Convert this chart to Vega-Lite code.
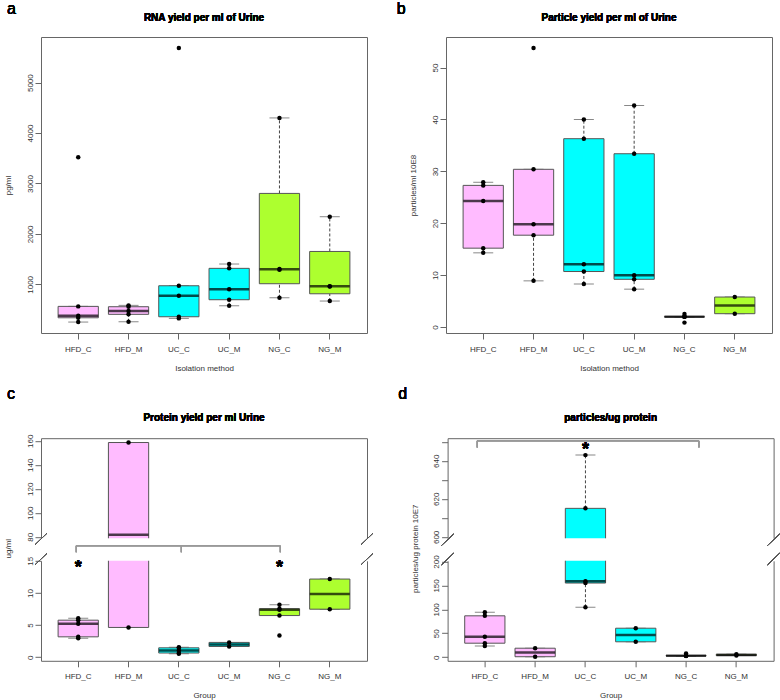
{
  "$schema": "https://vega.github.io/schema/vega-lite/v6.json",
  "autosize": {"type": "pad"},
  "padding": {"left": 4, "top": 0, "right": 4, "bottom": 2},
  "background": "white",
  "config": {
    "font": "Liberation Sans",
    "view": {"stroke": "#666", "strokeWidth": 1},
    "axis": {"grid": false, "domainColor": "#666", "tickColor": "#666", "tickSize": 6, "labelFontSize": 8, "labelColor": "#333", "titleFontSize": 8, "titleFontWeight": "normal", "titleColor": "#333", "labelFont": "Liberation Sans", "titleFont": "Liberation Sans", "labelOverlap": false, "labelFlush": false},
    "axisX": {"labelAngle": 0, "labelPadding": 12, "labelBaseline": "alphabetic", "titleY": 37, "titleBaseline": "alphabetic"},
    "axisY": {"labelAngle": -90, "labelAlign": "center", "labelBaseline": "alphabetic", "labelPadding": 3, "titleX": -30.5, "titleAngle": -90, "titleBaseline": "alphabetic", "titleAlign": "center", "format": "d"}
  },
  "datasets": {
    "boxes": [
      {"panel": "a", "group": "HFD_C", "lo": 252, "q1": 337, "med": 377, "q3": 563, "hi": 563},
      {"panel": "a", "group": "HFD_M", "lo": 258, "q1": 405, "med": 470, "q3": 556, "hi": 583},
      {"panel": "a", "group": "UC_C", "lo": 325, "q1": 357, "med": 774, "q3": 972, "hi": 972},
      {"panel": "a", "group": "UC_M", "lo": 575, "q1": 695, "med": 901, "q3": 1317, "hi": 1403},
      {"panel": "a", "group": "NG_C", "lo": 734, "q1": 1012, "med": 1298, "q3": 2803, "hi": 4300},
      {"panel": "a", "group": "NG_M", "lo": 669, "q1": 813, "med": 960, "q3": 1652, "hi": 2341},
      {"panel": "b", "group": "HFD_C", "lo": 14.3, "q1": 15.2, "med": 24.3, "q3": 27.3, "hi": 27.9},
      {"panel": "b", "group": "HFD_M", "lo": 8.9, "q1": 17.7, "med": 19.8, "q3": 30.4, "hi": 30.4},
      {"panel": "b", "group": "UC_C", "lo": 8.3, "q1": 10.7, "med": 12.1, "q3": 36.3, "hi": 40.0},
      {"panel": "b", "group": "UC_M", "lo": 7.3, "q1": 9.2, "med": 10.0, "q3": 33.4, "hi": 42.7},
      {"panel": "b", "group": "NG_C", "lo": 1.97, "q1": 1.97, "med": 1.98, "q3": 2.0, "hi": 2.0},
      {"panel": "b", "group": "NG_M", "lo": 2.57, "q1": 2.57, "med": 4.17, "q3": 5.78, "hi": 5.78},
      {"panel": "c", "group": "HFD_C", "lo": 2.96, "q1": 3.17, "med": 5.2, "q3": 5.76, "hi": 6.07},
      {"panel": "c", "group": "HFD_M", "lo": 4.63, "q1": 4.63, "med": 81.6, "q3": 158.6, "hi": 158.6},
      {"panel": "c", "group": "UC_C", "lo": 0.55, "q1": 0.65, "med": 1.05, "q3": 1.46, "hi": 1.56},
      {"panel": "c", "group": "UC_M", "lo": 1.67, "q1": 1.67, "med": 1.985, "q3": 2.3, "hi": 2.3},
      {"panel": "c", "group": "NG_C", "lo": 6.48, "q1": 6.48, "med": 7.38, "q3": 7.54, "hi": 8.16},
      {"panel": "c", "group": "NG_M", "lo": 7.47, "q1": 7.47, "med": 9.815, "q3": 12.16, "hi": 12.16},
      {"panel": "d", "group": "HFD_C", "lo": 23.5, "q1": 29.3, "med": 42.6, "q3": 86.5, "hi": 94},
      {"panel": "d", "group": "HFD_M", "lo": 1.0, "q1": 1.0, "med": 9.9, "q3": 18.8, "hi": 18.8},
      {"panel": "d", "group": "UC_C", "lo": 104.5, "q1": 155, "med": 159, "q3": 615, "hi": 643},
      {"panel": "d", "group": "UC_M", "lo": 32.2, "q1": 32.2, "med": 46.4, "q3": 60.6, "hi": 60.6},
      {"panel": "d", "group": "NG_C", "lo": 2.5, "q1": 2.9, "med": 3.3, "q3": 3.6, "hi": 3.6},
      {"panel": "d", "group": "NG_M", "lo": 3.5, "q1": 3.5, "med": 4.85, "q3": 6.2, "hi": 6.2}
    ],
    "points": [
      {"panel": "a", "group": "HFD_C", "v": 252}, {"panel": "a", "group": "HFD_C", "v": 337}, {"panel": "a", "group": "HFD_C", "v": 377}, {"panel": "a", "group": "HFD_C", "v": 563}, {"panel": "a", "group": "HFD_C", "v": 3520},
      {"panel": "a", "group": "HFD_M", "v": 258}, {"panel": "a", "group": "HFD_M", "v": 405}, {"panel": "a", "group": "HFD_M", "v": 470}, {"panel": "a", "group": "HFD_M", "v": 556}, {"panel": "a", "group": "HFD_M", "v": 583},
      {"panel": "a", "group": "UC_C", "v": 325}, {"panel": "a", "group": "UC_C", "v": 357}, {"panel": "a", "group": "UC_C", "v": 774}, {"panel": "a", "group": "UC_C", "v": 972}, {"panel": "a", "group": "UC_C", "v": 5688},
      {"panel": "a", "group": "UC_M", "v": 575}, {"panel": "a", "group": "UC_M", "v": 695}, {"panel": "a", "group": "UC_M", "v": 901}, {"panel": "a", "group": "UC_M", "v": 1317}, {"panel": "a", "group": "UC_M", "v": 1403},
      {"panel": "a", "group": "NG_C", "v": 734}, {"panel": "a", "group": "NG_C", "v": 1290}, {"panel": "a", "group": "NG_C", "v": 1306}, {"panel": "a", "group": "NG_C", "v": 4300},
      {"panel": "a", "group": "NG_M", "v": 669}, {"panel": "a", "group": "NG_M", "v": 957}, {"panel": "a", "group": "NG_M", "v": 963}, {"panel": "a", "group": "NG_M", "v": 2341},
      {"panel": "b", "group": "HFD_C", "v": 14.3}, {"panel": "b", "group": "HFD_C", "v": 15.2}, {"panel": "b", "group": "HFD_C", "v": 24.3}, {"panel": "b", "group": "HFD_C", "v": 27.3}, {"panel": "b", "group": "HFD_C", "v": 27.9},
      {"panel": "b", "group": "HFD_M", "v": 8.9}, {"panel": "b", "group": "HFD_M", "v": 17.7}, {"panel": "b", "group": "HFD_M", "v": 19.8}, {"panel": "b", "group": "HFD_M", "v": 30.4}, {"panel": "b", "group": "HFD_M", "v": 53.8},
      {"panel": "b", "group": "UC_C", "v": 8.3}, {"panel": "b", "group": "UC_C", "v": 10.7}, {"panel": "b", "group": "UC_C", "v": 12.1}, {"panel": "b", "group": "UC_C", "v": 36.3}, {"panel": "b", "group": "UC_C", "v": 40.0},
      {"panel": "b", "group": "UC_M", "v": 7.3}, {"panel": "b", "group": "UC_M", "v": 9.2}, {"panel": "b", "group": "UC_M", "v": 10.0}, {"panel": "b", "group": "UC_M", "v": 33.4}, {"panel": "b", "group": "UC_M", "v": 42.7},
      {"panel": "b", "group": "NG_C", "v": 0.85}, {"panel": "b", "group": "NG_C", "v": 1.97}, {"panel": "b", "group": "NG_C", "v": 1.98}, {"panel": "b", "group": "NG_C", "v": 2.0}, {"panel": "b", "group": "NG_C", "v": 2.5},
      {"panel": "b", "group": "NG_M", "v": 2.57}, {"panel": "b", "group": "NG_M", "v": 5.78},
      {"panel": "c", "group": "HFD_C", "v": 2.96}, {"panel": "c", "group": "HFD_C", "v": 3.17}, {"panel": "c", "group": "HFD_C", "v": 5.2}, {"panel": "c", "group": "HFD_C", "v": 5.76}, {"panel": "c", "group": "HFD_C", "v": 6.07},
      {"panel": "c", "group": "HFD_M", "v": 4.63}, {"panel": "c", "group": "HFD_M", "v": 158.6},
      {"panel": "c", "group": "UC_C", "v": 0.55}, {"panel": "c", "group": "UC_C", "v": 0.65}, {"panel": "c", "group": "UC_C", "v": 1.05}, {"panel": "c", "group": "UC_C", "v": 1.46}, {"panel": "c", "group": "UC_C", "v": 1.56},
      {"panel": "c", "group": "UC_M", "v": 1.67}, {"panel": "c", "group": "UC_M", "v": 2.3},
      {"panel": "c", "group": "NG_C", "v": 3.38}, {"panel": "c", "group": "NG_C", "v": 6.48}, {"panel": "c", "group": "NG_C", "v": 7.38}, {"panel": "c", "group": "NG_C", "v": 7.54}, {"panel": "c", "group": "NG_C", "v": 8.16},
      {"panel": "c", "group": "NG_M", "v": 7.47}, {"panel": "c", "group": "NG_M", "v": 12.16},
      {"panel": "d", "group": "HFD_C", "v": 23.5}, {"panel": "d", "group": "HFD_C", "v": 29.3}, {"panel": "d", "group": "HFD_C", "v": 42.6}, {"panel": "d", "group": "HFD_C", "v": 86.5}, {"panel": "d", "group": "HFD_C", "v": 94},
      {"panel": "d", "group": "HFD_M", "v": 1.0}, {"panel": "d", "group": "HFD_M", "v": 18.8},
      {"panel": "d", "group": "UC_C", "v": 104.5}, {"panel": "d", "group": "UC_C", "v": 155}, {"panel": "d", "group": "UC_C", "v": 159}, {"panel": "d", "group": "UC_C", "v": 615}, {"panel": "d", "group": "UC_C", "v": 643},
      {"panel": "d", "group": "UC_M", "v": 32.2}, {"panel": "d", "group": "UC_M", "v": 60.6},
      {"panel": "d", "group": "NG_C", "v": 2.5}, {"panel": "d", "group": "NG_C", "v": 2.9}, {"panel": "d", "group": "NG_C", "v": 3.3}, {"panel": "d", "group": "NG_C", "v": 3.6}, {"panel": "d", "group": "NG_C", "v": 7.7},
      {"panel": "d", "group": "NG_M", "v": 3.5}, {"panel": "d", "group": "NG_M", "v": 6.2}
    ]
  },
  "spacing": 13.2,
  "vconcat": [
    {
      "spacing": 79,
      "bounds": "flush",
      "hconcat": [
        {
          "width": 326, "height": 296,
          "data": {"name": "boxes"},
          "transform": [{"filter": "datum.panel === 'a'"}],
          "encoding": {"x": {"field": "group", "type": "nominal", "scale": {"type": "band", "domain": ["HFD_C", "HFD_M", "UC_C", "UC_M", "NG_C", "NG_M"], "paddingInner": 0.2, "paddingOuter": 0.34}, "axis": {"title": "Isolation method", "domain": false}}},
          "resolve": {"axis": {"y": "independent"}},
          "layer": [
            {"mark": {"type": "rule", "strokeDash": [3, 2], "color": "#444"}, "encoding": {"y": {"field": "lo", "type": "quantitative", "scale": {"domain": [35, 5905], "nice": false, "zero": false}, "axis": {"title": "pg/ml", "domain": false, "values": [1000, 2000, 3000, 4000, 5000]}}, "y2": {"field": "q1"}}},
            {"mark": {"type": "rule", "strokeDash": [3, 2], "color": "#444"}, "encoding": {"y": {"field": "q3", "type": "quantitative", "axis": null}, "y2": {"field": "hi"}}},
            {"mark": {"type": "tick", "size": 20, "thickness": 1, "color": "#555"}, "encoding": {"y": {"field": "lo", "type": "quantitative", "axis": null}}},
            {"mark": {"type": "tick", "size": 20, "thickness": 1, "color": "#555"}, "encoding": {"y": {"field": "hi", "type": "quantitative", "axis": null}}},
            {"mark": {"type": "bar", "stroke": "#555", "strokeWidth": 1}, "encoding": {"y": {"field": "q1", "type": "quantitative", "axis": null}, "y2": {"field": "q3"}, "fill": {"field": "group", "type": "nominal", "scale": {"domain": ["HFD_C", "HFD_M", "UC_C", "UC_M", "NG_C", "NG_M"], "range": ["#FFBBFF", "#FFBBFF", "#00FFFF", "#00FFFF", "#ADFF2F", "#ADFF2F"]}, "legend": null}}},
            {"mark": {"type": "tick", "size": 40, "thickness": 2.5, "color": "black"}, "encoding": {"y": {"field": "med", "type": "quantitative", "axis": null}}},
            {"data": {"name": "points"}, "transform": [{"filter": "datum.panel === 'a'"}], "mark": {"type": "circle", "size": 20, "color": "black", "opacity": 1}, "encoding": {"y": {"field": "v", "type": "quantitative", "axis": null}}},
            {"mark": {"type": "text", "text": "a", "fontSize": 16, "align": "left", "baseline": "alphabetic", "color": "black", "clip": false}, "encoding": {"x": {"datum": "HFD_C", "bandPosition": -1.27}, "y": {"datum": 6354.7, "type": "quantitative", "axis": null}}},
            {"mark": {"type": "text", "text": "RNA yield per ml of Urine", "fontSize": 10, "fontWeight": "bold", "align": "center", "baseline": "alphabetic", "color": "black", "clip": false}, "encoding": {"x": {"datum": "UC_C", "bandPosition": 1.125}, "y": {"datum": 6231.9, "type": "quantitative", "axis": null}}}
          ]
        },
        {
          "width": 326, "height": 296,
          "data": {"name": "boxes"},
          "transform": [{"filter": "datum.panel === 'b'"}],
          "encoding": {"x": {"field": "group", "type": "nominal", "scale": {"type": "band", "domain": ["HFD_C", "HFD_M", "UC_C", "UC_M", "NG_C", "NG_M"], "paddingInner": 0.2, "paddingOuter": 0.34}, "axis": {"title": "Isolation method", "domain": false}}},
          "resolve": {"axis": {"y": "independent"}},
          "layer": [
            {"mark": {"type": "rule", "strokeDash": [3, 2], "color": "#444"}, "encoding": {"y": {"field": "lo", "type": "quantitative", "scale": {"domain": [-1.15, 55.9], "nice": false, "zero": false}, "axis": {"title": "particles/ml 10E8", "domain": false, "values": [0, 10, 20, 30, 40, 50]}}, "y2": {"field": "q1"}}},
            {"mark": {"type": "rule", "strokeDash": [3, 2], "color": "#444"}, "encoding": {"y": {"field": "q3", "type": "quantitative", "axis": null}, "y2": {"field": "hi"}}},
            {"mark": {"type": "tick", "size": 20, "thickness": 1, "color": "#555"}, "encoding": {"y": {"field": "lo", "type": "quantitative", "axis": null}}},
            {"mark": {"type": "tick", "size": 20, "thickness": 1, "color": "#555"}, "encoding": {"y": {"field": "hi", "type": "quantitative", "axis": null}}},
            {"mark": {"type": "bar", "stroke": "#555", "strokeWidth": 1}, "encoding": {"y": {"field": "q1", "type": "quantitative", "axis": null}, "y2": {"field": "q3"}, "fill": {"field": "group", "type": "nominal", "scale": {"domain": ["HFD_C", "HFD_M", "UC_C", "UC_M", "NG_C", "NG_M"], "range": ["#FFBBFF", "#FFBBFF", "#00FFFF", "#00FFFF", "#ADFF2F", "#ADFF2F"]}, "legend": null}}},
            {"mark": {"type": "tick", "size": 40, "thickness": 2.5, "color": "black"}, "encoding": {"y": {"field": "med", "type": "quantitative", "axis": null}}},
            {"data": {"name": "points"}, "transform": [{"filter": "datum.panel === 'b'"}], "mark": {"type": "circle", "size": 20, "color": "black", "opacity": 1}, "encoding": {"y": {"field": "v", "type": "quantitative", "axis": null}}},
            {"mark": {"type": "text", "text": "b", "fontSize": 16, "align": "left", "baseline": "alphabetic", "color": "black", "clip": false}, "encoding": {"x": {"datum": "HFD_C", "bandPosition": -1.65}, "y": {"datum": 60.27, "type": "quantitative", "axis": null}}},
            {"mark": {"type": "text", "text": "Particle yield per ml of Urine", "fontSize": 10, "fontWeight": "bold", "align": "center", "baseline": "alphabetic", "color": "black", "clip": false}, "encoding": {"x": {"datum": "UC_C", "bandPosition": 1.125}, "y": {"datum": 59.08, "type": "quantitative", "axis": null}}}
          ]
        }
      ]
    },
    {
      "spacing": 23.6,
      "hconcat": [
        {
          "bounds": "flush",
          "spacing": 22.6,
          "vconcat": [
            {
              "width": 326, "height": 100,
              "view": {"stroke": null},
              "data": {"name": "boxes"},
              "transform": [{"filter": "datum.panel === 'c'"}],
              "encoding": {"x": {"field": "group", "type": "nominal", "scale": {"type": "band", "domain": ["HFD_C", "HFD_M", "UC_C", "UC_M", "NG_C", "NG_M"], "paddingInner": 0.2, "paddingOuter": 0.34}, "axis": {"orient": "top", "labels": false, "ticks": false, "title": null, "domain": true}}},
              "resolve": {"axis": {"y": "independent"}},
              "layer": [
                {"mark": {"type": "rule", "strokeDash": [3, 2], "color": "#444", "clip": true}, "encoding": {"y": {"field": "lo", "type": "quantitative", "scale": {"domain": [78.8, 162.2], "nice": false, "zero": false}, "axis": {"title": null, "values": [80, 100, 120, 140, 160]}}, "y2": {"field": "q1"}}},
                {"mark": {"type": "rule", "strokeDash": [3, 2], "color": "#444", "clip": true}, "encoding": {"y": {"field": "q3", "type": "quantitative", "axis": {"orient": "right", "labels": false, "ticks": false, "title": null}}, "y2": {"field": "hi"}}},
                {"mark": {"type": "tick", "size": 20, "thickness": 1, "color": "#555", "clip": true}, "encoding": {"y": {"field": "lo", "type": "quantitative", "axis": null}}},
                {"mark": {"type": "tick", "size": 20, "thickness": 1, "color": "#555", "clip": true}, "encoding": {"y": {"field": "hi", "type": "quantitative", "axis": null}}},
                {"mark": {"type": "bar", "stroke": "#555", "strokeWidth": 1, "clip": true}, "encoding": {"y": {"field": "q1", "type": "quantitative", "axis": null}, "y2": {"field": "q3"}, "fill": {"field": "group", "type": "nominal", "scale": {"domain": ["HFD_C", "HFD_M", "UC_C", "UC_M", "NG_C", "NG_M"], "range": ["#FFBBFF", "#FFBBFF", "#00FFFF", "#00FFFF", "#ADFF2F", "#ADFF2F"]}, "legend": null}}},
                {"mark": {"type": "tick", "size": 40, "thickness": 2.5, "color": "black", "clip": true}, "encoding": {"y": {"field": "med", "type": "quantitative", "axis": null}}},
                {"data": {"name": "points"}, "transform": [{"filter": "datum.panel === 'c'"}], "mark": {"type": "circle", "size": 20, "color": "black", "opacity": 1, "clip": true}, "encoding": {"y": {"field": "v", "type": "quantitative", "axis": null}}},
                {"mark": {"type": "rule", "color": "#555", "clip": false}, "encoding": {"x": {"datum": "HFD_C", "bandPosition": -0.574}, "x2": {"datum": "HFD_C", "bandPosition": -0.276}, "y": {"datum": 73.3, "type": "quantitative", "axis": null}, "y2": {"datum": 83.0}}},
                {"mark": {"type": "rule", "color": "#555", "clip": false}, "encoding": {"x": {"datum": "NG_M", "bandPosition": 1.276}, "x2": {"datum": "NG_M", "bandPosition": 1.574}, "y": {"datum": 73.3, "type": "quantitative", "axis": null}, "y2": {"datum": 83.0}}},
                {"mark": {"type": "text", "text": "c", "fontSize": 16, "align": "left", "baseline": "alphabetic", "color": "black", "clip": false}, "encoding": {"x": {"datum": "HFD_C", "bandPosition": -1.27}, "y": {"datum": 194.5, "type": "quantitative", "axis": null}}},
                {"mark": {"type": "text", "text": "Protein yield per ml Urine", "fontSize": 10, "fontWeight": "bold", "align": "center", "baseline": "alphabetic", "color": "black", "clip": false}, "encoding": {"x": {"datum": "UC_C", "bandPosition": 1.125}, "y": {"datum": 176.2, "type": "quantitative", "axis": null}}}
              ]
            },
            {
              "width": 326, "height": 100,
              "view": {"stroke": null},
              "data": {"name": "boxes"},
              "transform": [{"filter": "datum.panel === 'c'"}],
              "encoding": {"x": {"field": "group", "type": "nominal", "scale": {"type": "band", "domain": ["HFD_C", "HFD_M", "UC_C", "UC_M", "NG_C", "NG_M"], "paddingInner": 0.2, "paddingOuter": 0.34}, "axis": {"title": "Group", "domain": true}}},
              "resolve": {"axis": {"y": "independent"}},
              "layer": [
                {"mark": {"type": "rule", "strokeDash": [3, 2], "color": "#444", "clip": true}, "encoding": {"y": {"field": "lo", "type": "quantitative", "scale": {"domain": [-0.56, 15], "nice": false, "zero": false}, "axis": {"title": "ug/ml", "values": [0, 5, 10, 15], "titleY": -12.6}}, "y2": {"field": "q1"}}},
                {"mark": {"type": "rule", "strokeDash": [3, 2], "color": "#444", "clip": true}, "encoding": {"y": {"field": "q3", "type": "quantitative", "axis": {"orient": "right", "labels": false, "ticks": false, "title": null}}, "y2": {"field": "hi"}}},
                {"mark": {"type": "tick", "size": 20, "thickness": 1, "color": "#555", "clip": true}, "encoding": {"y": {"field": "lo", "type": "quantitative", "axis": null}}},
                {"mark": {"type": "tick", "size": 20, "thickness": 1, "color": "#555", "clip": true}, "encoding": {"y": {"field": "hi", "type": "quantitative", "axis": null}}},
                {"mark": {"type": "bar", "stroke": "#555", "strokeWidth": 1, "clip": true}, "encoding": {"y": {"field": "q1", "type": "quantitative", "axis": null}, "y2": {"field": "q3"}, "fill": {"field": "group", "type": "nominal", "scale": {"domain": ["HFD_C", "HFD_M", "UC_C", "UC_M", "NG_C", "NG_M"], "range": ["#FFBBFF", "#FFBBFF", "#00FFFF", "#00FFFF", "#ADFF2F", "#ADFF2F"]}, "legend": null}}},
                {"mark": {"type": "tick", "size": 40, "thickness": 2.5, "color": "black", "clip": true}, "encoding": {"y": {"field": "med", "type": "quantitative", "axis": null}}},
                {"data": {"name": "points"}, "transform": [{"filter": "datum.panel === 'c'"}], "mark": {"type": "circle", "size": 20, "color": "black", "opacity": 1, "clip": true}, "encoding": {"y": {"field": "v", "type": "quantitative", "axis": null}}},
                {"mark": {"type": "rule", "color": "#555", "clip": false}, "encoding": {"x": {"datum": "HFD_C", "bandPosition": -0.574}, "x2": {"datum": "HFD_C", "bandPosition": -0.276}, "y": {"datum": 14.37, "type": "quantitative", "axis": null}, "y2": {"datum": 16.17}}},
                {"mark": {"type": "rule", "color": "#555", "clip": false}, "encoding": {"x": {"datum": "NG_M", "bandPosition": 1.276}, "x2": {"datum": "NG_M", "bandPosition": 1.574}, "y": {"datum": 14.37, "type": "quantitative", "axis": null}, "y2": {"datum": 16.17}}},
                {"mark": {"type": "rule", "color": "#999", "clip": false}, "encoding": {"x": {"datum": "HFD_C", "bandPosition": 0.45}, "x2": {"datum": "NG_C", "bandPosition": 0.52}, "y": {"datum": 17.33, "type": "quantitative", "axis": null}}},
                {"mark": {"type": "rule", "color": "#999", "clip": false}, "encoding": {"x": {"datum": "HFD_C", "bandPosition": 0.45}, "y": {"datum": 16.33, "type": "quantitative", "axis": null}, "y2": {"datum": 17.33}}},
                {"mark": {"type": "rule", "color": "#999", "clip": false}, "encoding": {"x": {"datum": "UC_C", "bandPosition": 0.56}, "y": {"datum": 16.33, "type": "quantitative", "axis": null}, "y2": {"datum": 17.33}}},
                {"mark": {"type": "rule", "color": "#999", "clip": false}, "encoding": {"x": {"datum": "NG_C", "bandPosition": 0.52}, "y": {"datum": 16.33, "type": "quantitative", "axis": null}, "y2": {"datum": 17.33}}},
                {"mark": {"type": "text", "text": "*", "fontSize": 18, "fontWeight": "bold", "baseline": "alphabetic", "color": "black", "clip": false}, "encoding": {"x": {"datum": "HFD_C", "bandPosition": 0.5}, "y": {"datum": 13.1, "type": "quantitative", "axis": null}}},
                {"mark": {"type": "text", "text": "*", "fontSize": 18, "fontWeight": "bold", "baseline": "alphabetic", "color": "black", "clip": false}, "encoding": {"x": {"datum": "NG_C", "bandPosition": 0.5}, "y": {"datum": 13.1, "type": "quantitative", "axis": null}}}
              ]
            }
          ]
        },
        {
          "bounds": "flush",
          "spacing": 22.6,
          "vconcat": [
            {
              "width": 326, "height": 100,
              "view": {"stroke": null},
              "data": {"name": "boxes"},
              "transform": [{"filter": "datum.panel === 'd'"}],
              "encoding": {"x": {"field": "group", "type": "nominal", "scale": {"type": "band", "domain": ["HFD_C", "HFD_M", "UC_C", "UC_M", "NG_C", "NG_M"], "paddingInner": 0.2, "paddingOuter": 0.34}, "axis": {"orient": "top", "labels": false, "ticks": false, "title": null, "domain": true}}},
              "resolve": {"axis": {"y": "independent"}},
              "layer": [
                {"mark": {"type": "rule", "strokeDash": [3, 2], "color": "#444", "clip": true}, "encoding": {"y": {"field": "lo", "type": "quantitative", "scale": {"domain": [599.3, 651.9], "nice": false, "zero": false}, "axis": {"title": null, "values": [600, 610, 620, 630, 640, 650], "labelExpr": "datum.value % 20 === 0 ? datum.label : ''"}}, "y2": {"field": "q1"}}},
                {"mark": {"type": "rule", "strokeDash": [3, 2], "color": "#444", "clip": true}, "encoding": {"y": {"field": "q3", "type": "quantitative", "axis": {"orient": "right", "labels": false, "ticks": false, "title": null}}, "y2": {"field": "hi"}}},
                {"mark": {"type": "tick", "size": 20, "thickness": 1, "color": "#555", "clip": true}, "encoding": {"y": {"field": "lo", "type": "quantitative", "axis": null}}},
                {"mark": {"type": "tick", "size": 20, "thickness": 1, "color": "#555", "clip": true}, "encoding": {"y": {"field": "hi", "type": "quantitative", "axis": null}}},
                {"mark": {"type": "bar", "stroke": "#555", "strokeWidth": 1, "clip": true}, "encoding": {"y": {"field": "q1", "type": "quantitative", "axis": null}, "y2": {"field": "q3"}, "fill": {"field": "group", "type": "nominal", "scale": {"domain": ["HFD_C", "HFD_M", "UC_C", "UC_M", "NG_C", "NG_M"], "range": ["#FFBBFF", "#FFBBFF", "#00FFFF", "#00FFFF", "#ADFF2F", "#ADFF2F"]}, "legend": null}}},
                {"mark": {"type": "tick", "size": 40, "thickness": 2.5, "color": "black", "clip": true}, "encoding": {"y": {"field": "med", "type": "quantitative", "axis": null}}},
                {"data": {"name": "points"}, "transform": [{"filter": "datum.panel === 'd'"}], "mark": {"type": "circle", "size": 20, "color": "black", "opacity": 1, "clip": true}, "encoding": {"y": {"field": "v", "type": "quantitative", "axis": null}}},
                {"mark": {"type": "rule", "color": "#555", "clip": false}, "encoding": {"x": {"datum": "HFD_C", "bandPosition": -0.574}, "x2": {"datum": "HFD_C", "bandPosition": -0.276}, "y": {"datum": 595.5, "type": "quantitative", "axis": null}, "y2": {"datum": 601.5}}},
                {"mark": {"type": "rule", "color": "#555", "clip": false}, "encoding": {"x": {"datum": "NG_M", "bandPosition": 1.276}, "x2": {"datum": "NG_M", "bandPosition": 1.574}, "y": {"datum": 595.5, "type": "quantitative", "axis": null}, "y2": {"datum": 601.5}}},
                {"mark": {"type": "rule", "color": "#999", "clip": false}, "encoding": {"x": {"datum": "HFD_C", "bandPosition": 0.31}, "x2": {"datum": "NG_C", "bandPosition": 0.82}, "y": {"datum": 650.5, "type": "quantitative", "axis": null}}},
                {"mark": {"type": "rule", "color": "#999", "clip": false}, "encoding": {"x": {"datum": "HFD_C", "bandPosition": 0.31}, "y": {"datum": 647.0, "type": "quantitative", "axis": null}, "y2": {"datum": 650.5}}},
                {"mark": {"type": "rule", "color": "#999", "clip": false}, "encoding": {"x": {"datum": "NG_C", "bandPosition": 0.82}, "y": {"datum": 647.0, "type": "quantitative", "axis": null}, "y2": {"datum": 650.5}}},
                {"mark": {"type": "text", "text": "*", "fontSize": 18, "fontWeight": "bold", "baseline": "alphabetic", "color": "black", "clip": false}, "encoding": {"x": {"datum": "UC_C", "bandPosition": 0.5}, "y": {"datum": 643.3, "type": "quantitative", "axis": null}}},
                {"mark": {"type": "text", "text": "d", "fontSize": 16, "align": "left", "baseline": "alphabetic", "color": "black", "clip": false}, "encoding": {"x": {"datum": "HFD_C", "bandPosition": -1.65}, "y": {"datum": 672.3, "type": "quantitative", "axis": null}}},
                {"mark": {"type": "text", "text": "particles/ug protein", "fontSize": 10, "fontWeight": "bold", "align": "center", "baseline": "alphabetic", "color": "black", "clip": false}, "encoding": {"x": {"datum": "UC_C", "bandPosition": 1.125}, "y": {"datum": 660.7, "type": "quantitative", "axis": null}}}
              ]
            },
            {
              "width": 326, "height": 100,
              "view": {"stroke": null},
              "data": {"name": "boxes"},
              "transform": [{"filter": "datum.panel === 'd'"}],
              "encoding": {"x": {"field": "group", "type": "nominal", "scale": {"type": "band", "domain": ["HFD_C", "HFD_M", "UC_C", "UC_M", "NG_C", "NG_M"], "paddingInner": 0.2, "paddingOuter": 0.34}, "axis": {"title": "Group", "domain": true}}},
              "resolve": {"axis": {"y": "independent"}},
              "layer": [
                {"mark": {"type": "rule", "strokeDash": [3, 2], "color": "#444", "clip": true}, "encoding": {"y": {"field": "lo", "type": "quantitative", "scale": {"domain": [-7.5, 201.5], "nice": false, "zero": false}, "axis": {"title": "particles/ug protein 10E7", "values": [0, 50, 100, 150, 200], "titleY": -12.6}}, "y2": {"field": "q1"}}},
                {"mark": {"type": "rule", "strokeDash": [3, 2], "color": "#444", "clip": true}, "encoding": {"y": {"field": "q3", "type": "quantitative", "axis": {"orient": "right", "labels": false, "ticks": false, "title": null}}, "y2": {"field": "hi"}}},
                {"mark": {"type": "tick", "size": 20, "thickness": 1, "color": "#555", "clip": true}, "encoding": {"y": {"field": "lo", "type": "quantitative", "axis": null}}},
                {"mark": {"type": "tick", "size": 20, "thickness": 1, "color": "#555", "clip": true}, "encoding": {"y": {"field": "hi", "type": "quantitative", "axis": null}}},
                {"mark": {"type": "bar", "stroke": "#555", "strokeWidth": 1, "clip": true}, "encoding": {"y": {"field": "q1", "type": "quantitative", "axis": null}, "y2": {"field": "q3"}, "fill": {"field": "group", "type": "nominal", "scale": {"domain": ["HFD_C", "HFD_M", "UC_C", "UC_M", "NG_C", "NG_M"], "range": ["#FFBBFF", "#FFBBFF", "#00FFFF", "#00FFFF", "#ADFF2F", "#ADFF2F"]}, "legend": null}}},
                {"mark": {"type": "tick", "size": 40, "thickness": 2.5, "color": "black", "clip": true}, "encoding": {"y": {"field": "med", "type": "quantitative", "axis": null}}},
                {"data": {"name": "points"}, "transform": [{"filter": "datum.panel === 'd'"}], "mark": {"type": "circle", "size": 20, "color": "black", "opacity": 1, "clip": true}, "encoding": {"y": {"field": "v", "type": "quantitative", "axis": null}}},
                {"mark": {"type": "rule", "color": "#555", "clip": false}, "encoding": {"x": {"datum": "HFD_C", "bandPosition": -0.574}, "x2": {"datum": "HFD_C", "bandPosition": -0.276}, "y": {"datum": 193.1, "type": "quantitative", "axis": null}, "y2": {"datum": 217.4}}},
                {"mark": {"type": "rule", "color": "#555", "clip": false}, "encoding": {"x": {"datum": "NG_M", "bandPosition": 1.276}, "x2": {"datum": "NG_M", "bandPosition": 1.574}, "y": {"datum": 193.1, "type": "quantitative", "axis": null}, "y2": {"datum": 217.4}}}
              ]
            }
          ]
        }
      ]
    }
  ]
}
